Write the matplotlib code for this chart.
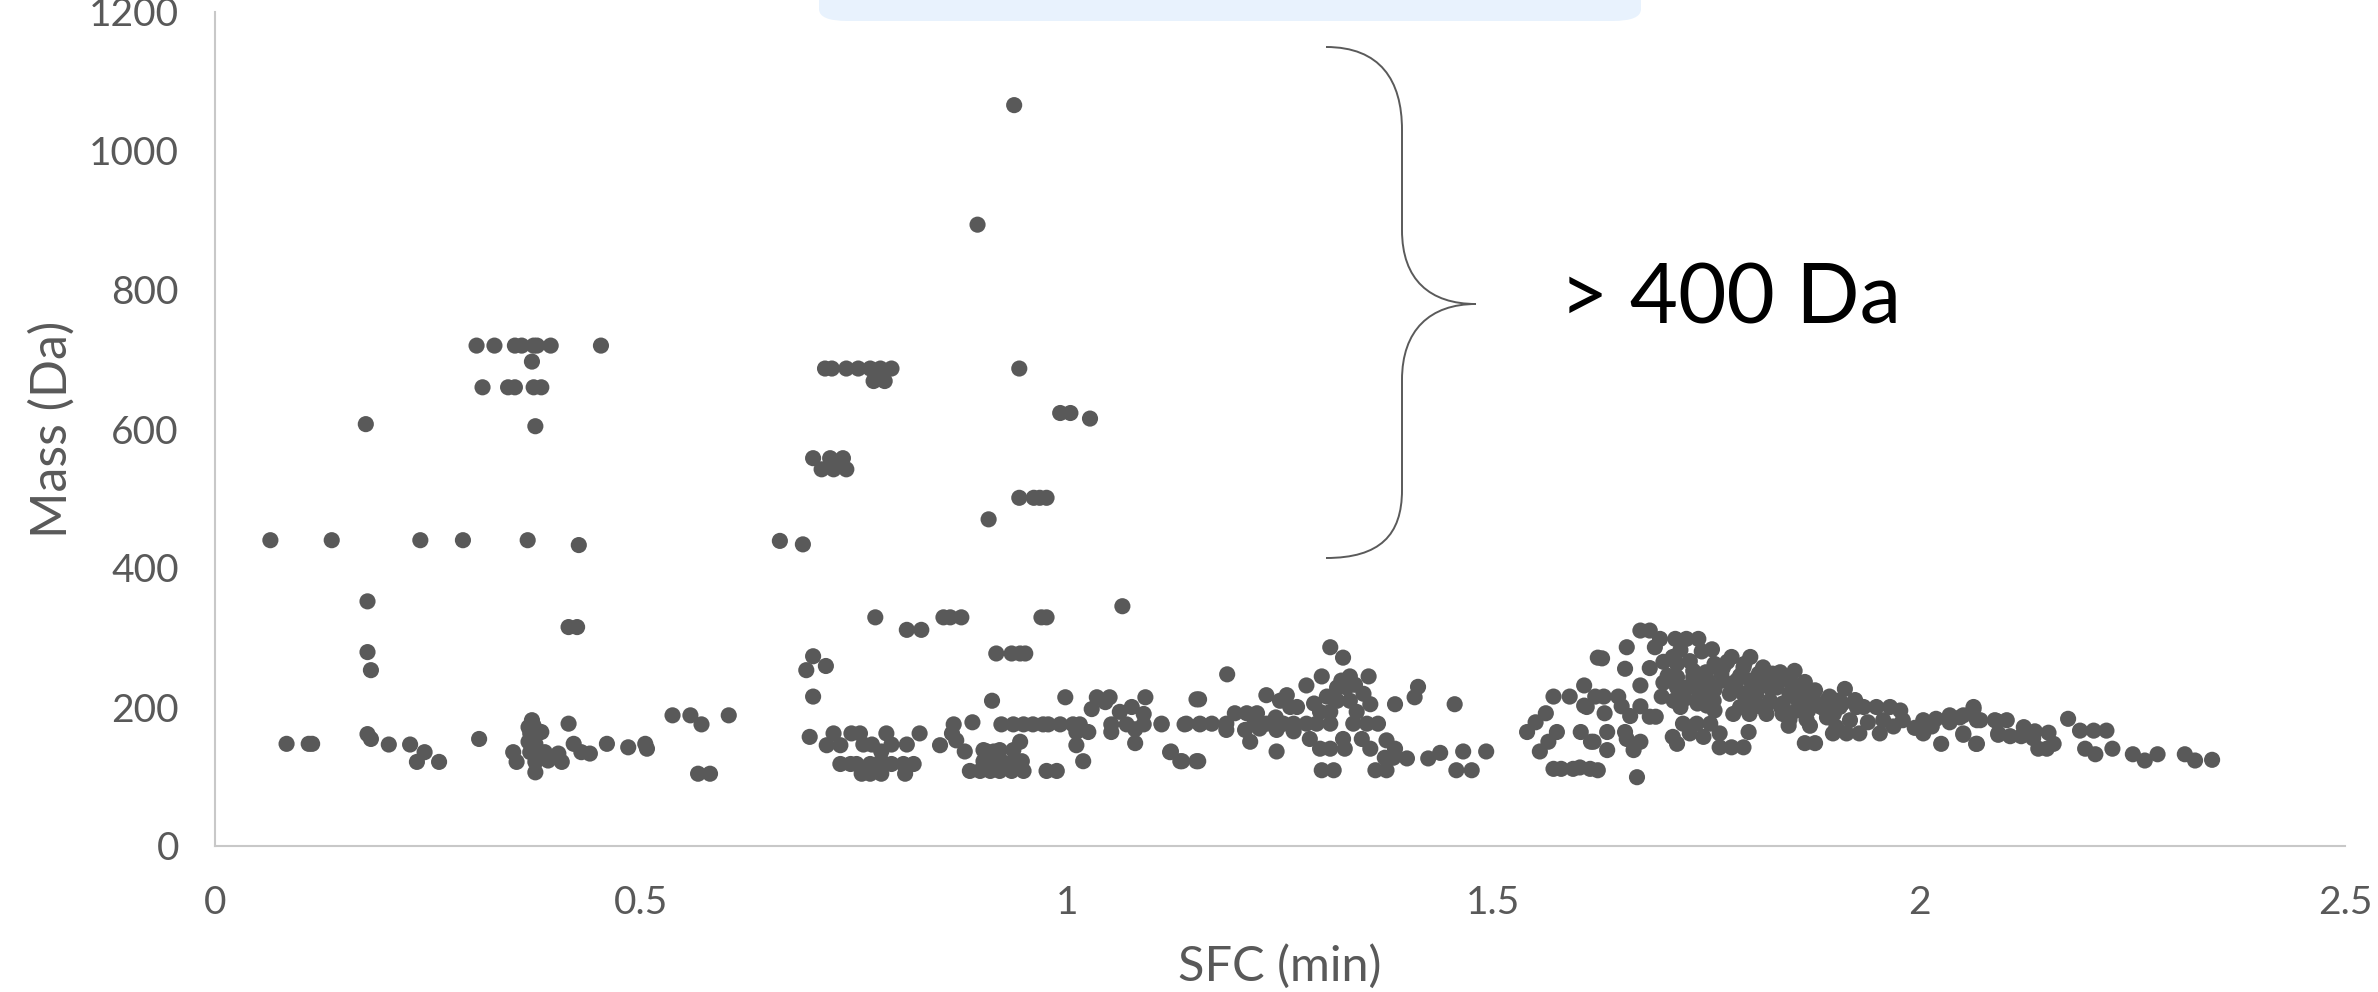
import matplotlib
matplotlib.use("Agg")
import matplotlib.pyplot as plt
from matplotlib.path import Path
from matplotlib.patches import PathPatch, FancyBboxPatch
import numpy as np

plt.rcParams['font.family'] = ['Lato', 'DejaVu Sans']

# ---- data: SFC retention time (min) vs mass (Da) ----
sfc_early = [0.307, 0.328, 0.352, 0.360, 0.374, 0.378, 0.394, 0.453, 0.372,
             0.314, 0.344, 0.352, 0.374, 0.383, 0.177, 0.376,
             0.065, 0.137, 0.241, 0.291, 0.367, 0.427,
             0.179, 0.415, 0.425, 0.179, 0.183,
             0.084, 0.110, 0.114, 0.179, 0.183, 0.204, 0.229, 0.246, 0.237, 0.263, 0.310,
             0.372, 0.374, 0.368, 0.383, 0.370, 0.368, 0.376, 0.370, 0.387, 0.403, 0.350,
             0.354, 0.376, 0.391, 0.407, 0.376, 0.415, 0.421, 0.430, 0.440, 0.460, 0.485,
             0.505, 0.507, 0.537, 0.558, 0.571, 0.567, 0.581, 0.603]
mass_early = [720, 720, 720, 720, 720, 720, 720, 720, 697,
              660, 660, 660, 660, 660, 607, 604,
              440, 440, 440, 440, 440, 433,
              352, 315, 315, 279, 253,
              147, 147, 147, 161, 154, 146, 146, 135, 121, 121, 154,
              181, 173, 171, 164, 162, 150, 147, 135, 135, 133, 135,
              121, 121, 123, 121, 106, 176, 147, 135, 133, 147, 142,
              147, 140, 188, 188, 175, 104, 104, 188]

sfc_mid = [0.938, 0.895,
           0.716, 0.724, 0.741, 0.755, 0.769, 0.781, 0.794, 0.773, 0.786, 0.944,
           0.992, 1.004, 1.027,
           0.702, 0.722, 0.737, 0.712, 0.726, 0.741,
           0.944, 0.961, 0.968, 0.976, 0.908, 0.663, 0.690,
           1.065, 0.775, 0.812, 0.829, 0.855, 0.863, 0.876, 0.970, 0.976,
           0.917, 0.935, 0.945, 0.951, 0.702, 0.694, 0.717,
           0.702, 0.912, 0.998, 1.035, 1.050, 1.092, 1.152,
           0.923, 0.937, 0.949, 0.960, 0.972, 0.978, 0.992, 1.007, 1.015, 1.052,
           1.070, 1.090, 1.111, 1.138, 1.156, 0.889, 0.867,
           1.029, 1.062, 1.076, 1.090, 1.045,
           1.011, 1.025, 1.052, 1.080, 1.080, 1.011, 1.019, 1.121, 1.133, 1.152,
           0.945, 0.937,
           0.886, 0.898, 0.906, 0.914, 0.902, 0.912, 0.923, 0.937, 0.947, 0.910,
           0.921, 0.935, 0.949, 0.976, 0.988, 0.921, 0.902,
           0.698, 0.726, 0.718, 0.734, 0.747, 0.757, 0.761, 0.771, 0.788, 0.794,
           0.812, 0.782, 0.782, 0.827,
           0.734, 0.746, 0.753, 0.769, 0.784, 0.794, 0.808, 0.820,
           0.759, 0.769, 0.782, 0.810, 0.851, 0.865, 0.870, 0.880]
mass_mid = [1066, 894,
            687, 687, 687, 687, 687, 687, 687, 669, 669, 687,
            623, 623, 615,
            558, 558, 558, 542, 542, 542,
            501, 501, 501, 501, 470, 439, 434,
            345, 329, 311, 311, 329, 329, 329, 329, 329,
            277, 277, 277, 277, 273, 253, 259,
            215, 209, 214, 214, 214, 214, 211,
            175, 175, 175, 175, 175, 175, 175, 175, 175, 175,
            175, 175, 175, 175, 175, 178, 175,
            197, 193, 200, 190, 207,
            164, 164, 164, 168, 148, 145, 122, 135, 122, 122,
            150, 138,
            108, 108, 136, 136, 122, 122, 122, 122, 122, 108,
            108, 108, 108, 108, 108, 138, 138,
            157, 162, 145, 145, 162, 162, 146, 146, 162, 146,
            146, 136, 122, 162,
            118, 118, 118, 118, 118, 118, 118, 118,
            104, 104, 104, 104, 145, 162, 152, 136]

sfc_late1 = [1.309, 1.324, 1.188, 1.155, 1.299, 1.332, 1.354, 1.281, 1.234, 1.258,
             1.412, 1.408, 1.385, 1.455, 1.356, 1.197, 1.211, 1.223,
             1.111, 1.140, 1.156, 1.170, 1.187, 1.234, 1.254, 1.266, 1.281, 1.293,
             1.309, 1.336, 1.352, 1.365,
             1.317, 1.328, 1.317, 1.332, 1.348, 1.340, 1.309, 1.297,
             1.250, 1.262, 1.226, 1.246, 1.266, 1.215, 1.209, 1.187,
             1.285, 1.297, 1.309, 1.324, 1.326, 1.346, 1.356,
             1.246, 1.122, 1.135, 1.154, 1.299, 1.313, 1.362, 1.375,
             1.375, 1.385, 1.373, 1.383, 1.399, 1.424, 1.438, 1.465, 1.492, 1.457, 1.475,
             1.322, 1.338, 1.305, 1.290, 1.270, 1.220, 1.245]
mass_late1 = [286, 271, 247, 211, 244, 244, 244, 231, 217, 217,
              229, 214, 204, 204, 204, 191, 191, 191,
              176, 176, 176, 176, 176, 176, 176, 176, 176, 176,
              176, 176, 176, 176,
              228, 228, 209, 209, 219, 193, 193, 193,
              209, 200, 169, 167, 165, 150, 167, 167,
              154, 140, 140, 154, 140, 154, 140,
              136, 136, 122, 122, 109, 109, 109, 109,
              152, 140, 127, 127, 126, 126, 134, 136, 136, 109, 109,
              238, 232, 215, 205, 200, 182, 185]

sfc_late2 = [1.571, 1.590, 1.607, 1.623, 1.562, 1.550, 1.540, 1.575, 1.603, 1.565,
             1.555, 1.615, 1.607,
             1.571, 1.580, 1.594, 1.602, 1.614, 1.623,
             1.620, 1.630, 1.647, 1.610, 1.631, 1.651, 1.661, 1.673, 1.684, 1.691,
             1.634, 1.618, 1.634, 1.655, 1.657, 1.665, 1.673, 1.669,
             1.673, 1.684, 1.696, 1.714, 1.727, 1.741, 1.657, 1.757, 1.690, 1.628,
             1.655, 1.684, 1.711, 1.731,
             1.780, 1.802, 1.770, 1.794, 1.817, 1.837, 1.854, 1.866, 1.878, 1.913,
             1.903, 1.673,
             1.698, 1.712, 1.720, 1.731, 1.745, 1.759, 1.751,
             1.782, 1.801, 1.821, 1.840, 1.856,
             1.770, 1.786, 1.802, 1.817, 1.833, 1.848, 1.864, 1.880, 1.778, 1.794,
             1.809, 1.825, 1.840,
             1.716, 1.735, 1.716, 1.727, 1.739, 1.716,
             1.750, 1.760, 1.790, 1.810, 1.830, 1.850, 1.820, 1.800, 1.860, 1.870,
             1.890, 1.900, 1.760, 1.740, 1.700, 1.700, 1.720, 1.745, 1.760,
             1.711, 1.716, 1.723, 1.739, 1.755, 1.731, 1.747, 1.766, 1.766, 1.780,
             1.794, 1.800, 1.847, 1.872, 1.866, 1.878,
             1.775, 1.795, 1.812, 1.828, 1.845, 1.785, 1.805, 1.825, 1.855, 1.872,
             1.752, 1.768, 1.735, 1.705, 1.725, 1.742, 1.790, 1.815, 1.838, 1.885,
             1.895, 1.910, 1.925, 1.868, 1.848]
mass_late2 = [215, 215, 231, 271, 191, 178, 164, 164, 164, 150,
              136, 150, 202,
              111, 111, 111, 113, 111, 109,
              215, 215, 215, 200, 191, 201, 187, 201, 186, 186,
              138, 150, 164, 164, 154, 138, 150, 99,
              310, 310, 298, 298, 298, 298, 286, 283, 286, 270,
              255, 256, 272, 266,
              272, 272, 257, 257, 257, 250, 252, 236, 224, 226,
              209, 231,
              215, 209, 200, 229, 219, 209, 202,
              190, 190, 190, 190, 195,
              238, 238, 238, 238, 228, 219, 209, 205, 219, 219,
              219, 209, 205,
              262, 243, 243, 228, 228, 228,
              250, 225, 245, 228, 245, 235, 200, 205, 222, 195,
              196, 190, 195, 205, 235, 265, 282, 280, 262,
              157, 147, 176, 176, 176, 162, 157, 162, 142, 142,
              142, 164, 173, 173, 148, 148,
              265, 262, 248, 248, 240, 228, 228, 228, 214, 214,
              238, 248, 252, 245, 212, 215, 200, 200, 200, 200,
              215, 205, 210, 182, 182]

sfc_tail = [1.892, 1.903, 1.919, 1.935, 1.950, 1.966, 1.978, 1.958, 1.981, 2.005,
            2.020, 2.036, 2.052, 2.064, 2.072,
            1.899, 1.915, 1.930, 1.954, 2.005, 2.052, 2.026, 2.067, 2.091, 2.093,
            1.892, 1.907, 1.927,
            2.064, 2.048, 2.068, 2.036, 2.089, 2.103, 2.123, 2.136, 2.152, 2.093,
            2.107, 2.120, 2.134, 2.158, 2.140, 2.150, 2.052, 2.068, 2.175, 2.189,
            2.205, 2.220, 2.195, 2.207, 2.227, 2.251, 2.265, 2.280, 2.312, 2.324, 2.344,
            1.940, 1.970, 1.995, 2.015]
mass_tail = [185, 171, 181, 200, 200, 200, 195, 181, 181, 181,
             183, 188, 188, 200, 181,
             162, 162, 162, 162, 162, 162, 147, 147, 180, 162,
             209, 200, 200,
             197, 185, 181, 178, 181, 181, 171, 165, 163, 160,
             158, 158, 155, 147, 140, 140, 160, 147, 183, 166,
             166, 166, 140, 132, 140, 132, 123, 132, 132, 123, 124,
             178, 172, 170, 172]

x_ticks = [0, 0.5, 1, 1.5, 2, 2.5]
x_tick_labels = ['0', '0.5', '1', '1.5', '2', '2.5']
y_ticks = [0, 200, 400, 600, 800, 1000, 1200]
annotation_text = '> 400 Da'

sfc = np.concatenate([sfc_early, sfc_mid, sfc_late1, sfc_late2, sfc_tail])
mass = np.concatenate([mass_early, mass_mid, mass_late1, mass_late2, mass_tail])

W, H = 2378, 992
fig = plt.figure(figsize=(W / 100, H / 100), dpi=100)
fig.patch.set_facecolor('white')

# light blue box at the top (partially cut off)
box = FancyBboxPatch((819 / W, (H - 21) / H), (1641 - 819) / W, 0.06,
                     boxstyle='round,pad=0,rounding_size=0.012',
                     transform=fig.transFigure, facecolor='#e8f2fd',
                     edgecolor='none', zorder=0)
fig.patches.append(box)

ax = fig.add_axes([215 / W, (H - 846) / H, (2345 - 215) / W, (846 - 12) / H])
ax.scatter(sfc, mass, s=135, color='#595959', edgecolors='none', zorder=3)

ax.set_xlim(0, 2.5)
ax.set_ylim(0, 1200)
ax.set_xticks(x_ticks)
ax.set_xticklabels(x_tick_labels)
ax.set_yticks(y_ticks)
for s in ['top', 'right']:
    ax.spines[s].set_visible(False)
for s in ['left', 'bottom']:
    ax.spines[s].set_color('#c8c8c8')
    ax.spines[s].set_linewidth(1.5)
ax.tick_params(axis='both', length=0, labelsize=28, labelcolor='#595959')
ax.tick_params(axis='y', pad=26)
ax.tick_params(axis='x', pad=28)

ax.set_xlabel('SFC (min)', fontsize=35, color='#595959', va='center')
ax.xaxis.set_label_coords(0.5, (846 - 966) / 834)
ax.set_ylabel('Mass (Da)', fontsize=36, color='#595959', va='center')
ax.yaxis.set_label_coords((52 - 215) / 2130, 0.5)

# curly brace (figure pixel coordinates converted to figure fraction)
def fp(x, y):
    return (x / W, (H - y) / H)

verts = [fp(1326, 47), fp(1380, 47), fp(1402, 80), fp(1402, 130),
         fp(1402, 230),
         fp(1402, 280), fp(1430, 304), fp(1476, 304),
         fp(1430, 304), fp(1402, 330), fp(1402, 380),
         fp(1402, 490),
         fp(1402, 535), fp(1380, 558), fp(1326, 558)]
codes = [Path.MOVETO, Path.CURVE4, Path.CURVE4, Path.CURVE4,
         Path.LINETO,
         Path.CURVE4, Path.CURVE4, Path.CURVE4,
         Path.CURVE4, Path.CURVE4, Path.CURVE4,
         Path.LINETO,
         Path.CURVE4, Path.CURVE4, Path.CURVE4]
brace = PathPatch(Path(verts, codes), transform=fig.transFigure, fill=False,
                  edgecolor='#5a5a5a', linewidth=1.4)
fig.patches.append(brace)

fig.text(1560 / W, (H - 300) / H, annotation_text, fontsize=60, color='black',
         ha='left', va='center')

fig.savefig('out.png', dpi=100, facecolor='white')
